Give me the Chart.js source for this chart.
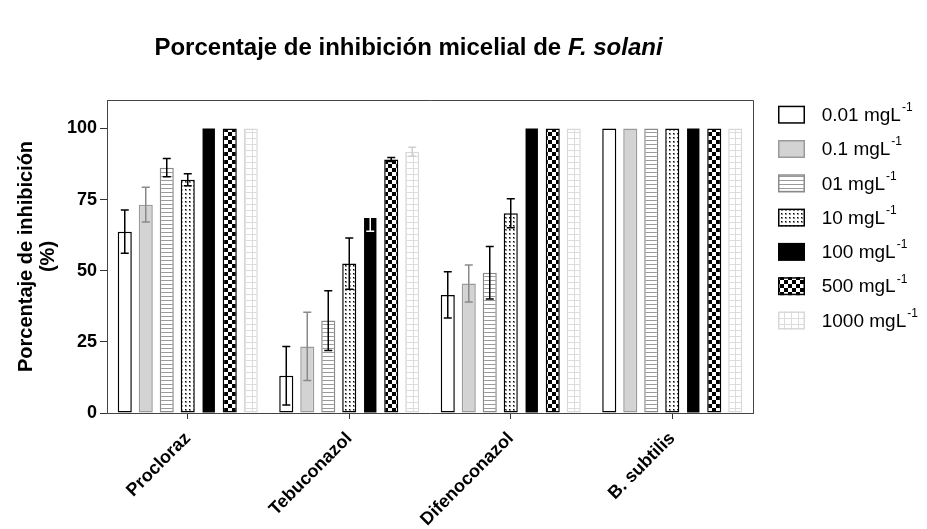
<!DOCTYPE html>
<html><head><meta charset="utf-8">
<script src="https://cdn.jsdelivr.net/npm/chart.js@4/dist/chart.umd.min.js"></script>
<style>html,body{margin:0;padding:0;background:#fff}#wrap{width:927px;height:529px}</style>
</head><body><div id="wrap"><canvas id="c" width="927" height="529"></canvas></div>
<script>
// ---- data ----
const categories = ['Procloraz', 'Tebuconazol', 'Difenoconazol', 'B. subtilis'];
const concentrations = ['0.01', '0.1', '01', '10', '100', '500', '1000'];
const unitText = 'mgL';
const unitSup = '-1';
const mean_0_01 = [63.7, 13.1, 41.5, 100];
const sd_0_01   = [7.6, 10.3, 8.1, 0];
const mean_0_1  = [73.2, 23.4, 45.5, 100];
const sd_0_1    = [6.1, 12.0, 6.5, 0];
const mean_01   = [86.2, 32.5, 49.3, 100];
const sd_01     = [3.2, 10.5, 9.2, 0];
const mean_10   = [82.0, 52.5, 70.2, 100];
const sd_10     = [2.1, 9.0, 5.1, 0];
const mean_100  = [100, 68.5, 100, 100];
const sd_100    = [0, 4.6, 0, 0];
const mean_500  = [100, 89.1, 100, 100];
const sd_500    = [0, 0.7, 0, 0];
const mean_1000 = [100, 91.8, 100, 100];
const sd_1000   = [0, 1.6, 0, 0];
const yTicks = [0, 25, 50, 75, 100];
const titleMain = 'Porcentaje de inhibición micelial de ';
const titleItalic = 'F. solani';
const yTitle = ['Porcentaje de inhibición', '(%)'];

// ---- styles ----
const FONT = 'Arial, "Liberation Sans", sans-serif';
Chart.defaults.font.family = FONT;

function makePattern(w, h, draw) {
  const c = document.createElement('canvas');
  c.width = w; c.height = h;
  const x = c.getContext('2d');
  draw(x, w, h);
  return x.createPattern(c, 'repeat');
}
const patStripes = makePattern(4, 4, (x) => { x.fillStyle = '#fff'; x.fillRect(0,0,4,4); x.fillStyle = '#9a9a9a'; x.fillRect(0,0,4,1); });
const patDots = makePattern(4, 4, (x) => { x.fillStyle = '#fff'; x.fillRect(0,0,4,4); x.fillStyle = '#8a8a8a'; x.fillRect(1,1,2,2); x.fillStyle = '#000'; x.fillRect(1,1,1,1); });
const patChecker = makePattern(8, 8, (x) => { x.fillStyle = '#fff'; x.fillRect(0,0,8,8); x.fillStyle = '#000'; x.fillRect(0,0,4,4); x.fillRect(4,4,4,4); });
const patGrid = makePattern(7, 6, (x) => { x.fillStyle = '#fff'; x.fillRect(0,0,7,6); x.fillStyle = '#dcdcdc'; x.fillRect(0,0,7,1); x.fillRect(0,0,1,6); });

const means = [mean_0_01, mean_0_1, mean_01, mean_10, mean_100, mean_500, mean_1000];
const sds = [sd_0_01, sd_0_1, sd_01, sd_10, sd_100, sd_500, sd_1000];
const fills = ['#ffffff', '#d3d3d3', patStripes, patDots, '#000000', patChecker, patGrid];
const borders = ['#000000', '#9a9a9a', '#8a8a8a', '#000000', '#000000', '#000000', '#d8d8d8'];
const borderWidths = [1.5, 1.5, 1.5, 1.5, 0, 1.5, 1.5];
const barPcts = [0.67, 0.67, 0.67, 0.67, 0.59, 0.67, 0.67];
const errColors = ['#000000', '#8a8a8a', '#000000', '#000000', '#ffffff', '#000000', '#cfcfcf'];

const datasets = concentrations.map((c, i) => ({
  label: c + ' ' + unitText + '⁻¹',
  data: means[i],
  errors: sds[i],
  errorColor: errColors[i],
  backgroundColor: fills[i],
  borderColor: borders[i],
  borderWidth: borderWidths[i],
  borderSkipped: false,
  categoryPercentage: 0.91,
  barPercentage: barPcts[i]
}));

const errorBarPlugin = {
  id: 'errorBars',
  afterDatasetsDraw(chart) {
    const ctx = chart.ctx, ys = chart.scales.y;
    chart.data.datasets.forEach((ds, i) => {
      const meta = chart.getDatasetMeta(i);
      meta.data.forEach((bar, j) => {
        const sd = ds.errors[j];
        if (!sd) return;
        const v = ds.data[j];
        const yt = ys.getPixelForValue(v + sd), yb = ys.getPixelForValue(v - sd);
        ctx.save();
        ctx.strokeStyle = ds.errorColor; ctx.lineWidth = 1.5;
        ctx.beginPath();
        ctx.moveTo(bar.x, yt); ctx.lineTo(bar.x, yb);
        ctx.moveTo(bar.x - 4, yt); ctx.lineTo(bar.x + 4, yt);
        ctx.moveTo(bar.x - 4, yb); ctx.lineTo(bar.x + 4, yb);
        ctx.stroke();
        ctx.restore();
      });
    });
  }
};

const decorPlugin = {
  id: 'decor',
  afterDraw(chart) {
    const ctx = chart.ctx, a = chart.chartArea;
    ctx.save();
    // frame top/right
    ctx.strokeStyle = '#444'; ctx.lineWidth = 1;
    ctx.beginPath();
    ctx.moveTo(a.left, Math.round(a.top) + 0.5); ctx.lineTo(Math.round(a.right) + 0.5, Math.round(a.top) + 0.5);
    ctx.lineTo(Math.round(a.right) + 0.5, a.bottom);
    ctx.stroke();
    // title
    ctx.fillStyle = '#000'; ctx.textBaseline = 'middle'; ctx.textAlign = 'left';
    const f1 = 'bold 24px ' + FONT, f2 = 'italic bold 24px ' + FONT;
    ctx.font = f1; const w1 = ctx.measureText(titleMain).width;
    ctx.font = f2; const w2 = ctx.measureText(titleItalic).width;
    const tx = 408.5 - (w1 + w2) / 2, ty = 48;
    ctx.font = f1; ctx.fillText(titleMain, tx, ty);
    ctx.font = f2; ctx.fillText(titleItalic, tx + w1, ty);
    // legend
    chart.data.datasets.forEach((ds, i) => {
      const yc = 114.7 + i * 34.3;
      const bx = 778, bw = 27, bh = 18;
      ctx.fillStyle = ds.backgroundColor;
      ctx.fillRect(bx, yc - bh / 2, bw, bh);
      if (ds.borderWidth) {
        ctx.strokeStyle = ds.borderColor; ctx.lineWidth = 1.5;
        ctx.strokeRect(bx + 0.75, yc - bh / 2 + 0.75, bw - 1.5, bh - 1.5);
      }
      ctx.fillStyle = '#000'; ctx.textBaseline = 'middle';
      ctx.font = '19px ' + FONT;
      const main = concentrations[i] + ' ' + unitText;
      ctx.fillText(main, 821.7, yc + 1);
      const mw = ctx.measureText(main).width;
      ctx.font = '12px ' + FONT;
      ctx.fillText(unitSup, 821.7 + mw + 1, yc - 7);
    });
    ctx.restore();
  }
};

new Chart(document.getElementById('c'), {
  type: 'bar',
  data: { labels: categories, datasets },
  plugins: [errorBarPlugin, decorPlugin],
  options: {
    responsive: false, animation: false, devicePixelRatio: 1,
    layout: { padding: { top: 100, right: 174, left: 0, bottom: 0 } },
    plugins: { legend: { display: false }, tooltip: { enabled: false }, title: { display: false } },
    scales: {
      x: {
        grid: { display: true, drawOnChartArea: false, offset: false, tickLength: 6, color: '#333' },
        border: { display: true, color: '#444', width: 1 },
        ticks: { font: { size: 18, weight: 'bold' }, color: '#000', maxRotation: 45, minRotation: 45, padding: 9, autoSkip: false },
        afterFit(s) { s.height = 116; }
      },
      y: {
        min: 0, max: 110,
        afterBuildTicks(s) { s.ticks = yTicks.map(v => ({ value: v })); },
        grid: { display: true, drawOnChartArea: false, tickLength: 7, color: '#333' },
        border: { display: true, color: '#444', width: 1 },
        ticks: { font: { size: 18, weight: 'bold' }, color: '#000', padding: 3 },
        title: { display: true, text: yTitle, color: '#000', font: { size: 20, weight: 'bold', lineHeight: 1.075 }, padding: { top: 16, bottom: 0 } },
        afterFit(s) { s.width = 107; }
      }
    }
  }
});
</script>
</body></html>
